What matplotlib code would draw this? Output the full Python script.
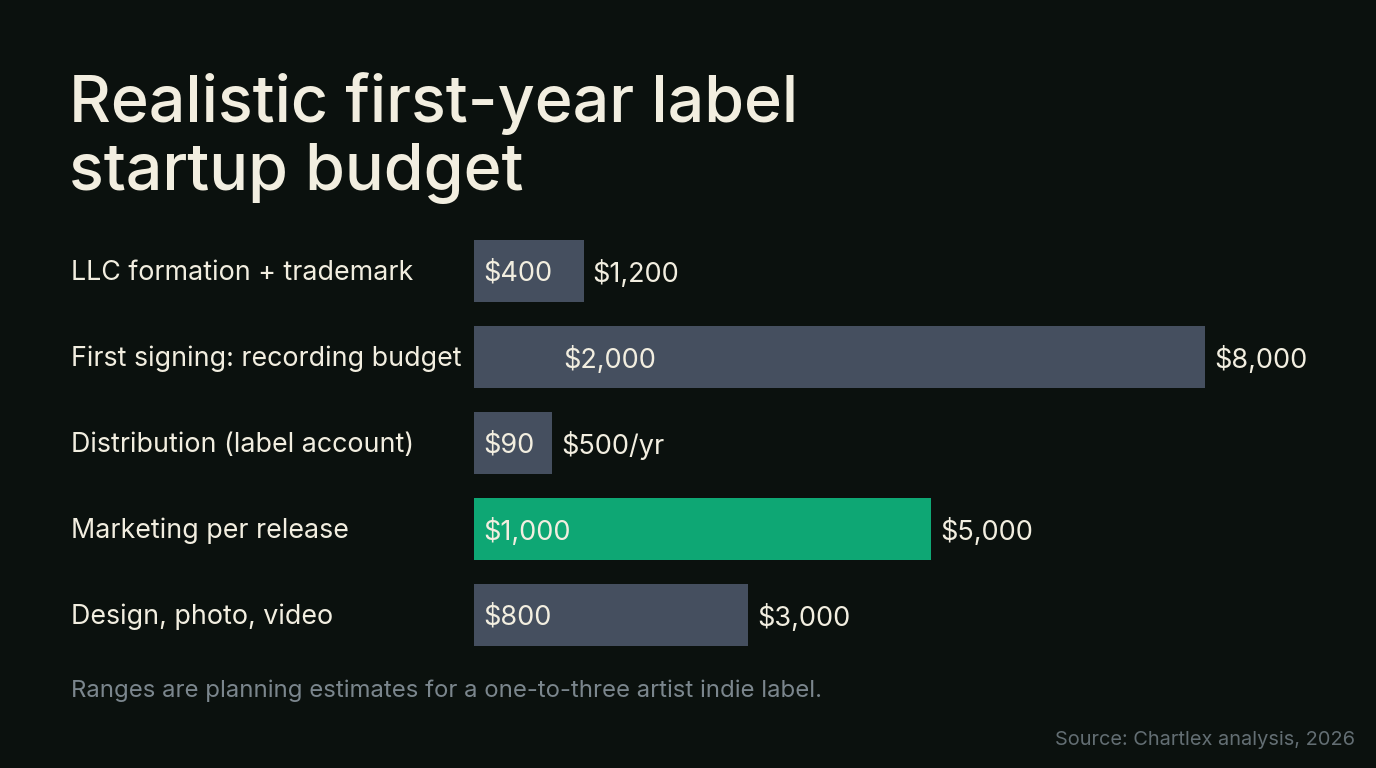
import matplotlib.pyplot as plt

plt.rcParams['font.family'] = ['Inter', 'DejaVu Sans']

categories = ["LLC formation + trademark", "First signing: recording budget",
              "Distribution (label account)", "Marketing per release",
              "Design, photo, video"]
low_labels = ["$400", "$2,000", "$90", "$1,000", "$800"]
high_values = [1200, 8000, 500, 5000, 3000]
high_labels = ["$1,200", "$8,000", "$500/yr", "$5,000", "$3,000"]
highlight = "Marketing per release"

BG = "#0b110e"
BAR = "#454f5f"
GREEN = "#0ea774"
CREAM = "#f2eee0"
GREY = "#7b868d"

W, H = 1376, 768
fig = plt.figure(figsize=(W / 100, H / 100), dpi=100, facecolor=BG)

# axes placed in pixel units
left, right, top, bottom = 474, 1356, 228, 658
ax = fig.add_axes([left / W, 1 - bottom / H, (right - left) / W, (bottom - top) / H])
ax.set_facecolor(BG)
xmax = 8000 * (right - left) / 731
ax.set_xlim(0, xmax)
ax.set_ylim(len(categories) - 0.5, -0.5)
ax.axis("off")
px_per_unit = (right - left) / xmax

ys = list(range(len(categories)))
colors = [GREEN if c == highlight else BAR for c in categories]
inner_offset = [9, 89, 9, 9, 9]  # px
renderer = fig.canvas.get_renderer()

# inner (low) labels, measured so a short bar still holds its label
widths = []
for y, lo, hi, off in zip(ys, low_labels, high_values, inner_offset):
    t = ax.annotate(lo, (0, y), xytext=(off * 0.72, -2), textcoords="offset points",
                    va="center", ha="left", fontsize=19.5, color=CREAM, zorder=3)
    w_px = t.get_window_extent(renderer).width + off + 18
    widths.append(max(hi, w_px / px_per_unit))

ax.barh(ys, widths, height=0.72, color=colors, linewidth=0)

for y, w, hl in zip(ys, widths, high_labels):
    ax.annotate(hl, (w, y), xytext=(9 * 0.72, -2), textcoords="offset points",
                va="center", ha="left", fontsize=19.5, color=CREAM)

for y, c in zip(ys, categories):
    yf = 1 - (top + (y + 0.5) * (bottom - top) / len(categories) + 2) / H
    fig.text(71 / W, yf, c, ha="left", va="center", fontsize=19.3, color=CREAM)

fig.text(69 / W, 1 - 122 / H, "Realistic first-year label", ha="left", va="baseline",
         fontsize=46.5, fontweight="medium", color=CREAM)
fig.text(69 / W, 1 - 190 / H, "startup budget", ha="left", va="baseline",
         fontsize=46.5, fontweight="medium", color=CREAM)

fig.text(71 / W, 1 - 691 / H, "Ranges are planning estimates for a one-to-three artist indie label.",
         ha="left", va="center", fontsize=17.25, color=GREY)
fig.text(1355 / W, 1 - 740 / H, "Source: Chartlex analysis, 2026",
         ha="right", va="center", fontsize=14.4, color="#636e73")

fig.savefig("out.png", dpi=100, facecolor=BG)
